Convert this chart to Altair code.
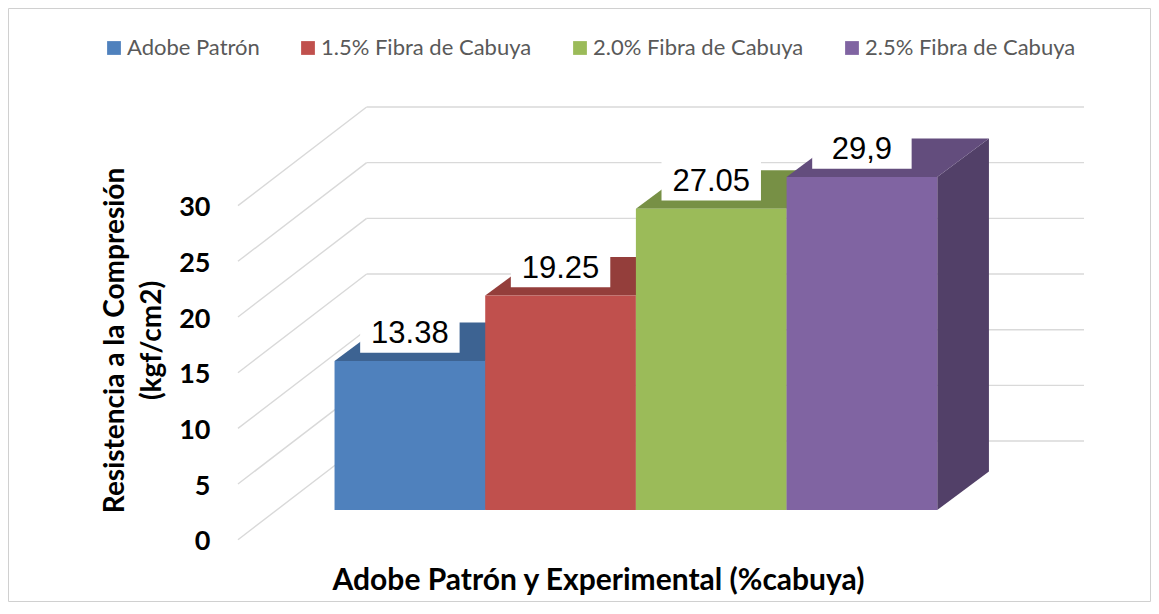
import altair as alt
import pandas as pd

# ---------------- data ----------------
series = ["Adobe Patrón", "1.5% Fibra de Cabuya", "2.0% Fibra de Cabuya", "2.5% Fibra de Cabuya"]
values = [13.38, 19.25, 27.05, 29.9]
value_labels = ["13.38", "19.25", "27.05", "29,9"]
y_ticks = [0, 5, 10, 15, 20, 25, 30]

# ---------------- style ----------------
front_colors = ["#4F81BD", "#C0504D", "#9BBB59", "#8064A2"]
top_colors = ["#3D6392", "#943E3B", "#779045", "#634D7D"]
side_colors = ["#334E73", "#7B3331", "#637839", "#524068"]
grid_color = "#D9D9D9"

# 3-D projection constants (axis units)
DX = 0.343          # depth shift along x (bar widths)
DY = 3.46           # depth shift along y (value units)
BASE = 2.67         # bar floor relative to front wall
WALL_DY = 8.86      # back wall floor relative to front wall
WALL_FRONT_X = -0.641
WALL_BACK_X0 = 0.213
WALL_BACK_X1 = 4.974

W, H = 889, 490
PAD = {"left": 206, "top": 64, "right": 48, "bottom": 40}

xscale = alt.Scale(domain=[-0.8, 5.1], nice=False, zero=False)
yscale = alt.Scale(domain=[-2, 42], nice=False, zero=False)

xaxis = alt.Axis(labels=False, ticks=False, domain=False, grid=False,
                 title="Adobe Patrón y Experimental (%cabuya)",
                 titleFont="Lato", titleFontSize=30, titleFontWeight="bold",
                 titleColor="black", titleX=384, titleY=18, titleBaseline="middle",
                 titleAlign="center", titleAnchor="middle")
yaxis = alt.Axis(values=y_ticks, ticks=False, domain=False, grid=False,
                 labelFont="Lato", labelFontSize=27, labelFontWeight="bold",
                 labelColor="black", labelPadding=4, labelOffset=2,
                 title=["Resistencia a la Compresión", "(kgf/cm2)"],
                 titleFont="Lato", titleFontSize=28, titleFontWeight="bold",
                 titleColor="black", titleX=-99, titleY=268, titleLineHeight=37,
                 titleBaseline="middle", titleAlign="center", titleAnchor="middle")


def X(f="x"):
    return alt.X(f, type="quantitative", scale=xscale, axis=xaxis)


def Y(f="y"):
    return alt.Y(f, type="quantitative", scale=yscale, axis=yaxis)


# ---------------- tables ----------------
front_rows, top_rows, side_rows, lab_rows = [], [], [], []
for i, (s, v, t) in enumerate(zip(series, values, value_labels)):
    top = BASE + v
    front_rows.append({"series": s, "x": i, "x2": i + 1, "y": BASE, "y2": top})
    for px, lo, hi in [(i, top, top), (i + DX, top, top + DY),
                       (i + 1, top, top + DY), (i + 1 + DX, top + DY, top + DY)]:
        top_rows.append({"series": s, "x": px, "y": lo, "y2": hi})
    for px, lo, hi in [(i + 1, BASE, top), (i + 1 + DX, BASE + DY, top + DY)]:
        side_rows.append({"series": s, "x": px, "y": lo, "y2": hi})
    lab_rows.append({"series": s, "label": t, "x": i + 0.5, "y": top + 1.6,
                     "bx": i + 0.5 - 0.33, "bx2": i + 0.5 + 0.33,
                     "by": top + 0.75, "by2": top + 4.2})

front_df = pd.DataFrame(front_rows)
top_df = pd.DataFrame(top_rows)
side_df = pd.DataFrame(side_rows)
lab_df = pd.DataFrame(lab_rows)

back_grid = pd.DataFrame({"x": [WALL_BACK_X0] * len(y_ticks),
                          "x2": [WALL_BACK_X1] * len(y_ticks),
                          "y": [WALL_DY + t for t in y_ticks]})
diag_grid = pd.DataFrame({"x": [WALL_FRONT_X] * len(y_ticks),
                          "x2": [WALL_BACK_X0] * len(y_ticks),
                          "y": y_ticks,
                          "y2": [WALL_DY + t for t in y_ticks]})

# ---------------- layers ----------------
border = alt.Chart(pd.DataFrame({"a": [0]})).mark_rect(
    fillOpacity=0, stroke="#D0D0D0", strokeWidth=1).encode(
    x=alt.value(-PAD["left"] + 0.5), x2=alt.value(W + PAD["right"] - 0.5),
    y=alt.value(-PAD["top"] + 0.5), y2=alt.value(H + PAD["bottom"] - 0.5))

back = alt.Chart(back_grid).mark_rule(color=grid_color, strokeWidth=1.4).encode(
    x=X(), x2="x2", y=Y())

diag = alt.Chart(diag_grid).mark_rule(color=grid_color, strokeWidth=1.4).encode(
    x=X(), x2="x2", y=Y(), y2="y2")

side = alt.Chart(side_df).mark_area(orient="vertical").encode(
    x=X(), y=Y(), y2="y2",
    color=alt.Color("series:N", scale=alt.Scale(domain=series, range=side_colors), legend=None))

topf = alt.Chart(top_df).mark_area(orient="vertical").encode(
    x=X(), y=Y(), y2="y2",
    color=alt.Color("series:N", scale=alt.Scale(domain=series, range=top_colors), legend=None))

front = alt.Chart(front_df).mark_rect().encode(
    x=X(), x2="x2", y=Y(), y2="y2",
    color=alt.Color("series:N", sort=series,
                    scale=alt.Scale(domain=series, range=front_colors),
                    legend=alt.Legend(title=None, orient="none", legendX=-111, legendY=-35,
                                      direction="horizontal", columns=4,
                                      symbolType="square", symbolSize=190,
                                      symbolStrokeWidth=0, labelFont="Lato",
                                      labelFontSize=22, labelColor="#595959",
                                      columnPadding=37, labelOffset=2, labelLimit=400)))

boxes = alt.Chart(lab_df).mark_rect(color="white").encode(
    x=alt.X("bx", type="quantitative", scale=xscale, axis=xaxis), x2="bx2",
    y=alt.Y("by", type="quantitative", scale=yscale, axis=yaxis), y2="by2")

labels = alt.Chart(lab_df).mark_text(font="Liberation Sans", fontSize=31, color="black",
                                     align="center", baseline="alphabetic").encode(
    x=X(), y=Y(), text="label:N")

chart = alt.layer(border, back, diag, side, topf, front, boxes, labels).resolve_scale(
    color="independent"
).properties(
    width=W, height=H, padding=PAD,
    autosize=alt.AutoSizeParams(type="none"),
    background="white",
).configure_view(strokeWidth=0)

chart.save("out.html", embed_options={"renderer": "svg", "actions": False})
